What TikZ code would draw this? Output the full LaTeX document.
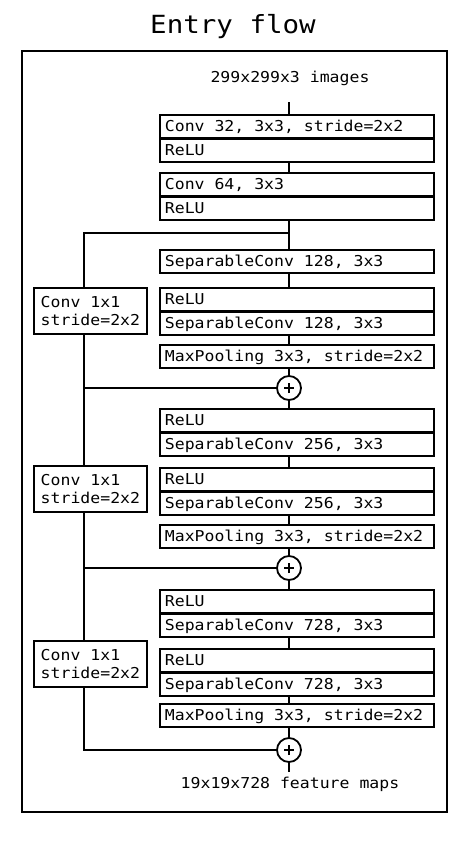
\documentclass[tikz,border=0pt]{standalone}
\usepackage{fontspec}
\setmainfont[FakeStretch=1.1]{DejaVu Sans Mono}
\newcommand{\boxtext}[1]{\makebox[264pt][l]{#1}}
\begin{document}
\begin{tikzpicture}[x=1pt,y=-1pt,
  every node/.style={font=\fontsize{15}{18}\selectfont},
  lay/.style={draw, line width=1.8pt, anchor=north west, minimum width=274pt,
    inner xsep=5pt, inner ysep=0pt,
    text height=11pt, text depth=0pt},
  row/.style={lay, minimum height=22.5pt},
  single/.style={lay, minimum height=23pt},
  shortcut/.style={draw, line width=1.8pt, anchor=north west, minimum width=113pt,
    minimum height=46pt, align=left, inner sep=0pt},
  addop/.style={draw, circle, line width=1.8pt, minimum size=24pt, inner sep=0pt,
    path picture={
      \draw[line width=1.4pt] ([xshift=-5pt]path picture bounding box.center) -- ([xshift=5pt]path picture bounding box.center);
      \draw[line width=1.4pt] ([yshift=-5pt]path picture bounding box.center) -- ([yshift=5pt]path picture bounding box.center);}},
  link/.style={line width=1.8pt},
  frame/.style={draw, line width=1.8pt}
]
\useasboundingbox (0,0) rectangle (459,852);
\node[font=\fontsize{25}{30}\selectfont, anchor=base] (title) at (233,33) {Entry flow};
\draw[frame] (22,51) rectangle (447,812);
\node[anchor=base] (inlbl) at (290,82) {299x299x3 images};
\node[anchor=base] (outlbl) at (290,788) {19x19x728 feature maps};

% main column
\node[row] (b1a) at (159,114) {\boxtext{Conv 32, 3x3, stride=2x2}};
\node[row] (b1b) at (b1a.south west) {\boxtext{ReLU}};
\node[row] (b2a) at (159,172) {\boxtext{Conv 64, 3x3}};
\node[row] (b2b) at (b2a.south west) {\boxtext{ReLU}};
\node[single] (b3) at (159,249) {\boxtext{SeparableConv 128, 3x3}};
\node[row] (b4a) at (159,287) {\boxtext{ReLU}};
\node[row] (b4b) at (b4a.south west) {\boxtext{SeparableConv 128, 3x3}};
\node[single] (b5) at (159,344) {\boxtext{MaxPooling 3x3, stride=2x2}};
\node[addop] (p1) at (289,388) {};
\node[row] (b6a) at (159,408) {\boxtext{ReLU}};
\node[row] (b6b) at (b6a.south west) {\boxtext{SeparableConv 256, 3x3}};
\node[row] (b7a) at (159,467) {\boxtext{ReLU}};
\node[row] (b7b) at (b7a.south west) {\boxtext{SeparableConv 256, 3x3}};
\node[single] (b8) at (159,524) {\boxtext{MaxPooling 3x3, stride=2x2}};
\node[addop] (p2) at (289,568) {};
\node[row] (b9a) at (159,589) {\boxtext{ReLU}};
\node[row] (b9b) at (b9a.south west) {\boxtext{SeparableConv 728, 3x3}};
\node[row] (b10a) at (159,648) {\boxtext{ReLU}};
\node[row] (b10b) at (b10a.south west) {\boxtext{SeparableConv 728, 3x3}};
\node[single] (b11) at (159,703) {\boxtext{MaxPooling 3x3, stride=2x2}};
\node[addop] (p3) at (289,750) {};

% shortcut column
\node[shortcut] (c1) at (33,287) {Conv 1x1\\stride=2x2};
\node[shortcut] (c2) at (33,465) {Conv 1x1\\stride=2x2};
\node[shortcut] (c3) at (33,640) {Conv 1x1\\stride=2x2};

\coordinate (sp) at (289,0);
\coordinate (sk) at (84,0);
\coordinate (inTop) at (289,102);
\coordinate (j1) at (289,233);
\coordinate (outEnd) at (289,772);

\draw[link] (inTop) -- (b1a.north -| sp);
\draw[link] (b1b.south -| sp) -- (b2a.north -| sp);
\draw[link] (b2b.south -| sp) -- (b3.north -| sp);
\draw[link] (j1) -- (j1 -| sk) -- (c1.north -| sk);
\draw[link] (b3.south -| sp) -- (b4a.north -| sp);
\draw[link] (b4b.south -| sp) -- (b5.north -| sp);
\draw[link] (b5.south -| sp) -- (p1.north);
\draw[link] (c1.south -| sk) |- (p1.west);
\draw[link] (p1.west -| sk) -- (c2.north -| sk);
\draw[link] (p1.south) -- (b6a.north -| sp);
\draw[link] (b6b.south -| sp) -- (b7a.north -| sp);
\draw[link] (b7b.south -| sp) -- (b8.north -| sp);
\draw[link] (b8.south -| sp) -- (p2.north);
\draw[link] (c2.south -| sk) |- (p2.west);
\draw[link] (p2.west -| sk) -- (c3.north -| sk);
\draw[link] (p2.south) -- (b9a.north -| sp);
\draw[link] (b9b.south -| sp) -- (b10a.north -| sp);
\draw[link] (b10b.south -| sp) -- (b11.north -| sp);
\draw[link] (b11.south -| sp) -- (p3.north);
\draw[link] (c3.south -| sk) |- (p3.west);
\draw[link] (p3.south) -- (outEnd);
\end{tikzpicture}
\end{document}
